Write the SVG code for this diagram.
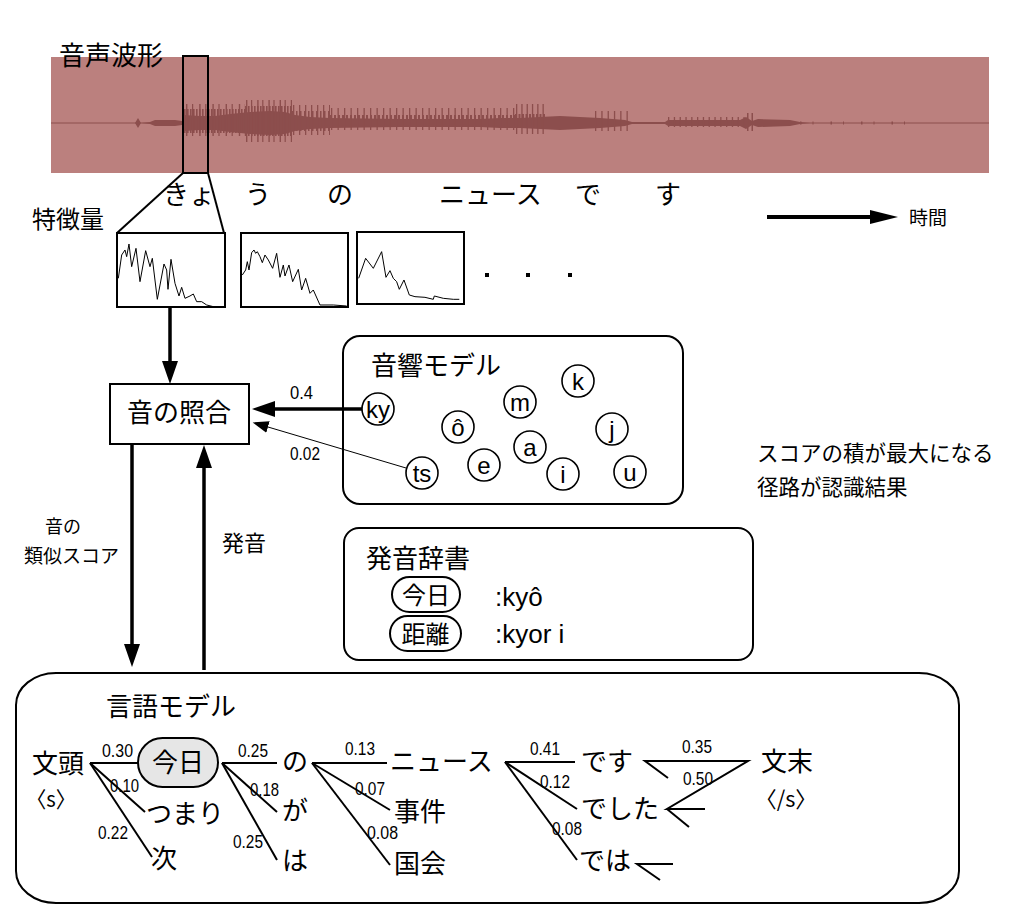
<svg xmlns="http://www.w3.org/2000/svg" width="1031" height="912" viewBox="0 0 1031 912">
<style>
.jp{font-family:"Noto Sans CJK JP","Noto Sans",sans-serif;fill:#000}
.lat{font-family:"Liberation Sans","Noto Sans",sans-serif;fill:#000}
.num{font-family:"Liberation Sans Narrow","Liberation Sans",sans-serif;font-size:19px;fill:#000}
.box{fill:#fff;stroke:#000;stroke-width:2}
.ph{fill:#fff;stroke:#000;stroke-width:1.6}
.ln{stroke:#000;stroke-width:2;fill:none}
.spec{fill:none;stroke:#000;stroke-width:3}
.wv{fill:#8c4e4d}
.comb{stroke:#8c4e4d;fill:none}
</style>
<defs>
<marker id="ah" markerUnits="userSpaceOnUse" markerWidth="24" markerHeight="18" refX="0" refY="8" orient="auto">
<path d="M0,0 L23,8 L0,16 z" fill="#000"/>
</marker>
<marker id="ahs" markerUnits="userSpaceOnUse" markerWidth="18" markerHeight="14" refX="0" refY="6" orient="auto">
<path d="M0,0 L16,6 L0,12 z" fill="#000"/>
</marker>
</defs>
<rect width="1031" height="912" fill="#fff"/>

<g id="waveform">
<rect x="51" y="57" width="938" height="116" fill="#bb807e"/>
<line x1="51" y1="123" x2="989" y2="123" stroke="#8c4e4d" stroke-width="1"/>
<path class="wv" d="M135,123 L138,118 L141,123 L150,122 L155,120 L175,120 L182,121 L184,115 L200,116 L215,116 L230,114 L250,112 L270,111 L285,112 L295,115 L310,117 L330,118 L400,119 L480,119 L500,118 L520,118 L540,117 L560,116 L580,117 L600,118 L625,120 L632,122 L665,122 L668,120 L740,120 L746,117 L752,121 L758,119 L790,120 L800,122 L810,123 L800,124 L790,126 L758,127 L752,125 L746,129 L740,126 L668,126 L665,124 L632,124 L625,126 L600,128 L580,129 L560,130 L540,129 L520,128 L500,128 L480,127 L400,127 L330,128 L310,129 L295,131 L285,134 L270,135 L250,134 L230,132 L215,130 L200,130 L184,131 L182,125 L175,126 L155,126 L150,124 L141,123 L138,128 z"/>
<line class="comb" x1="184" y1="121" x2="245" y2="121" stroke-width="24" stroke-dasharray="1.6 1.4"/>
<line class="comb" x1="186" y1="120" x2="245" y2="120" stroke-width="32" stroke-dasharray="1.4 4.6 1.2 6"/>
<line class="comb" x1="245" y1="121" x2="292" y2="121" stroke-width="30" stroke-dasharray="1.6 1.4"/>
<line class="comb" x1="246" y1="121" x2="292" y2="121" stroke-width="42" stroke-dasharray="1.4 3.6 1.2 5"/>
<line class="comb" x1="292" y1="121" x2="330" y2="121" stroke-width="20" stroke-dasharray="1.5 2.5"/>
<line class="comb" x1="293" y1="120" x2="330" y2="120" stroke-width="30" stroke-dasharray="1.3 4.7"/>
<line class="comb" x1="330" y1="121" x2="515" y2="121" stroke-width="12" stroke-dasharray="2 2"/>
<line class="comb" x1="331" y1="119" x2="515" y2="119" stroke-width="22" stroke-dasharray="1.3 5.2"/>
<line class="comb" x1="515" y1="121" x2="545" y2="121" stroke-width="14" stroke-dasharray="2 1.5"/>
<line class="comb" x1="516" y1="119" x2="545" y2="119" stroke-width="30" stroke-dasharray="1.3 4"/>
<line class="comb" x1="595" y1="121" x2="628" y2="121" stroke-width="20" stroke-dasharray="1.3 5"/>
<line class="comb" x1="668" y1="122" x2="745" y2="122" stroke-width="10" stroke-dasharray="1.3 4.5"/>
<line class="comb" x1="747" y1="122" x2="754" y2="122" stroke-width="18" stroke-dasharray="1.5 3"/>
<line class="comb" x1="800" y1="123" x2="920" y2="123" stroke-width="3" stroke-dasharray="1.5 11 1 17"/>
</g>
<text class="jp" x="59" y="65" font-size="26">音声波形</text>

<g id="selection">
<rect x="183" y="56" width="25" height="117" fill="none" stroke="#000" stroke-width="2"/>
<line class="ln" x1="183" y1="173" x2="117" y2="233"/>
<line class="ln" x1="208" y1="173" x2="224" y2="233"/>
</g>

<g id="transcript" class="jp" font-size="26">
<text x="163" y="204">きょ</text>
<text x="245" y="204">う</text>
<text x="327" y="204">の</text>
<text x="439" y="204">ニュース</text>
<text x="575" y="204">で</text>
<text x="655" y="204">す</text>
</g>

<g id="time-arrow">
<line x1="767" y1="217" x2="872" y2="217" stroke="#000" stroke-width="4"/>
<path d="M870,210 L898,217 L870,224 z" fill="#000"/>
<text class="jp" x="909" y="225" font-size="19">時間</text>
</g>

<text class="jp" x="32" y="228" font-size="24">特徴量</text>

<g id="feat1">
<rect class="box" x="117" y="233" width="108" height="74"/>
<polyline class="spec" transform="translate(100 200) scale(0.3333)" points="55,235 65,165 75,150 80,170 87,132 95,200 108,145 120,245 137,152 150,200 157,175 172,298 192,192 200,210 204,268 213,178 225,250 237,288 245,262 255,295 270,288 280,282 290,305 305,305 320,315 340,320 372,320"/>
</g>
<g id="feat2">
<rect class="box" x="241" y="233" width="107" height="74"/>
<polyline class="spec" transform="translate(100 200) scale(0.3333)" points="427,225 437,210 442,185 447,210 455,158 462,150 467,160 472,155 480,170 487,188 495,165 505,180 518,205 530,160 540,232 550,195 555,228 567,195 578,245 595,208 605,270 617,235 630,280 640,270 660,315 700,315 740,318"/>
</g>
<g id="feat3">
<rect class="box" x="357" y="232" width="107" height="72"/>
<polyline class="spec" transform="translate(100 200) scale(0.3333)" points="776,235 797,175 820,205 845,155 858,232 870,212 880,235 890,245 898,268 912,240 928,285 945,290 975,292 1000,298 1003,288 1030,295 1060,298 1078,298"/>
</g>
<g id="dots" fill="#000">
<rect x="485" y="273" width="4" height="4"/>
<rect x="526" y="273" width="4" height="4"/>
<rect x="568" y="273" width="4" height="4"/>
</g>

<g id="match">
<rect class="box" x="110" y="384" width="139" height="60"/>
<text class="jp" x="179" y="422" font-size="26" text-anchor="middle">音の照合</text>
</g>

<g id="acoustic-model">
<rect class="box" x="343" y="336" width="340" height="168" rx="17"/>
<text class="jp" x="371" y="375" font-size="26">音響モデル</text>
<g class="lat" font-size="24" text-anchor="middle">
<circle class="ph" cx="378" cy="409" r="16"/><text x="378" y="418">ky</text>
<circle class="ph" cx="458" cy="427" r="16"/><text x="458" y="436">ô</text>
<circle class="ph" cx="520" cy="402" r="16"/><text x="520" y="411">m</text>
<circle class="ph" cx="578" cy="381" r="16"/><text x="578" y="390">k</text>
<circle class="ph" cx="612" cy="429" r="16"/><text x="612" y="438">j</text>
<circle class="ph" cx="530" cy="447" r="16"/><text x="530" y="456">a</text>
<circle class="ph" cx="484" cy="465" r="16"/><text x="484" y="474">e</text>
<circle class="ph" cx="422" cy="473" r="16"/><text x="422" y="482">ts</text>
<circle class="ph" cx="563" cy="474" r="16"/><text x="563" y="483">i</text>
<circle class="ph" cx="630" cy="472" r="16"/><text x="630" y="481">u</text>
</g>
</g>

<g id="dictionary">
<rect class="box" x="344" y="528" width="409" height="132" rx="15"/>
<text class="jp" x="366" y="568" font-size="26">発音辞書</text>
<rect class="box" x="392" y="577" width="68" height="35" rx="17.5" stroke-width="1.5"/>
<text class="jp" x="426" y="604" font-size="24" text-anchor="middle">今日</text>
<rect class="box" x="390" y="616" width="71" height="35" rx="17.5" stroke-width="1.5"/>
<text class="jp" x="425.5" y="643" font-size="24" text-anchor="middle">距離</text>
<text class="lat" x="495" y="606" font-size="26">:kyô</text>
<text class="lat" x="495" y="643" font-size="26">:kyor i</text>
</g>

<g id="note" class="jp" font-size="21.5">
<text x="757" y="461">スコアの積が最大になる</text>
<text x="757" y="495">径路が認識結果</text>
</g>

<g id="connectors">
<line x1="170" y1="307" x2="170" y2="361" stroke="#000" stroke-width="3.5" marker-end="url(#ah)"/>
<line x1="362" y1="409" x2="275" y2="409" stroke="#000" stroke-width="3.5" marker-end="url(#ah)"/>
<line x1="406" y1="468" x2="268" y2="427" stroke="#000" stroke-width="1" marker-end="url(#ahs)"/>
<line x1="132" y1="444" x2="132" y2="644" stroke="#000" stroke-width="3.5" marker-end="url(#ah)"/>
<line x1="204" y1="670" x2="204" y2="468" stroke="#000" stroke-width="3.5" marker-end="url(#ah)"/>
</g>
<g id="connector-labels">
<text class="num" x="290" y="399" textLength="23" lengthAdjust="spacingAndGlyphs">0.4</text>
<text class="num" x="290" y="460" textLength="30" lengthAdjust="spacingAndGlyphs">0.02</text>
<text class="jp" x="45" y="533" font-size="18">音の</text>
<text class="jp" x="24" y="563" font-size="19">類似スコア</text>
<text class="jp" x="222" y="551" font-size="22">発音</text>
</g>

<g id="language-model">
<rect class="box" x="16" y="673" width="943" height="230" rx="40" ry="32"/>
<text class="jp" x="106" y="716" font-size="26">言語モデル</text>
</g>

<g id="lm-edges" class="ln">
<line x1="90" y1="763" x2="138" y2="763"/>
<line x1="90" y1="763" x2="145" y2="812"/>
<line x1="90" y1="763" x2="152" y2="857"/>
<line x1="222" y1="763" x2="277" y2="763"/>
<line x1="222" y1="763" x2="277" y2="812"/>
<line x1="222" y1="763" x2="277" y2="860"/>
<line x1="312" y1="763" x2="387" y2="763"/>
<line x1="312" y1="763" x2="390" y2="810"/>
<line x1="312" y1="763" x2="390" y2="865"/>
<line x1="505" y1="762" x2="575" y2="762"/>
<line x1="505" y1="762" x2="577" y2="809"/>
<line x1="505" y1="762" x2="577" y2="860"/>
<polyline points="668,778 645,761 748,761 667,809 705,809"/>
<line x1="667" y1="809" x2="689" y2="827"/>
<polyline points="673,864 637,864 660,880"/>
</g>

<g id="lm-labels">
<text class="num" x="102" y="757" textLength="31" lengthAdjust="spacingAndGlyphs">0.30</text>
<text class="num" x="110" y="792" textLength="29" lengthAdjust="spacingAndGlyphs">0.10</text>
<text class="num" x="98" y="839" textLength="30" lengthAdjust="spacingAndGlyphs">0.22</text>
<text class="num" x="238" y="757" textLength="30" lengthAdjust="spacingAndGlyphs">0.25</text>
<text class="num" x="250" y="796" textLength="29" lengthAdjust="spacingAndGlyphs">0.18</text>
<text class="num" x="233" y="848" textLength="30" lengthAdjust="spacingAndGlyphs">0.25</text>
<text class="num" x="345" y="755" textLength="30" lengthAdjust="spacingAndGlyphs">0.13</text>
<text class="num" x="355" y="795" textLength="30" lengthAdjust="spacingAndGlyphs">0.07</text>
<text class="num" x="367" y="839" textLength="31" lengthAdjust="spacingAndGlyphs">0.08</text>
<text class="num" x="530" y="755" textLength="30" lengthAdjust="spacingAndGlyphs">0.41</text>
<text class="num" x="540" y="788" textLength="30" lengthAdjust="spacingAndGlyphs">0.12</text>
<text class="num" x="552" y="835" textLength="30" lengthAdjust="spacingAndGlyphs">0.08</text>
<text class="num" x="682" y="753" textLength="30" lengthAdjust="spacingAndGlyphs">0.35</text>
<text class="num" x="683" y="785" textLength="30" lengthAdjust="spacingAndGlyphs">0.50</text>
</g>

<g id="w-bunto" class="jp"><text x="32" y="773" font-size="26">文頭</text><text x="26" y="807" font-size="22" textLength="50" lengthAdjust="spacingAndGlyphs">〈s〉</text></g>
<g id="w-kyou"><rect x="138" y="738" width="80" height="49" rx="24.5" fill="#e6e6e6" stroke="#000" stroke-width="2"/><text class="jp" x="178" y="772" font-size="26" text-anchor="middle">今日</text></g>
<g id="w-tsumari"><text class="jp" x="146" y="823" font-size="26">つまり</text></g>
<g id="w-tsugi"><text class="jp" x="151" y="868" font-size="26">次</text></g>
<g id="w-no"><text class="jp" x="282" y="771" font-size="26">の</text></g>
<g id="w-ga"><text class="jp" x="282" y="820" font-size="26">が</text></g>
<g id="w-ha"><text class="jp" x="282" y="870" font-size="26">は</text></g>
<g id="w-news"><text class="jp" x="390" y="771" font-size="26">ニュース</text></g>
<g id="w-jiken"><text class="jp" x="394" y="821" font-size="26">事件</text></g>
<g id="w-kokkai"><text class="jp" x="394" y="873" font-size="26">国会</text></g>
<g id="w-desu"><text class="jp" x="581" y="771" font-size="26">です</text></g>
<g id="w-deshita"><text class="jp" x="581" y="818" font-size="26">でした</text></g>
<g id="w-dewa"><text class="jp" x="579" y="870" font-size="26">では</text></g>
<g id="w-bunmatsu" class="jp"><text x="761" y="771" font-size="26">文末</text><text x="755" y="807" font-size="22" textLength="62" lengthAdjust="spacingAndGlyphs">〈/s〉</text></g>
</svg>
